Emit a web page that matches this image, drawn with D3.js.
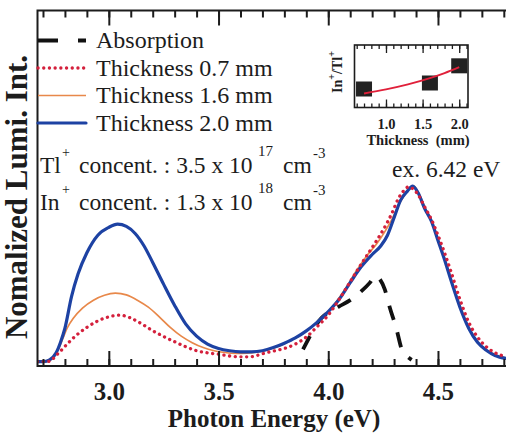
<!DOCTYPE html>
<html>
<head>
<meta charset="utf-8">
<script src="https://cdn.jsdelivr.net/npm/d3@7"></script>
<style>
  body { margin: 0; background: #fff; }
  svg { display: block; }
</style>
</head>
<body>
<div class="lumiChart"></div>
<script>
// ---- data ----
// photon energy (eV) / normalized intensity, thickness 0.7 mm
var energy07 = [2.675, 2.72, 2.74, 2.76, 2.78, 2.81, 2.85, 2.90, 2.95, 3.00, 3.05, 3.10, 3.15, 3.20, 3.25, 3.30, 3.35, 3.40, 3.45, 3.50, 3.55, 3.60, 3.65, 3.70, 3.75, 3.80, 3.85, 3.90, 3.95, 4.00, 4.05, 4.10, 4.15, 4.20, 4.25, 4.29, 4.32, 4.345, 4.365, 4.385, 4.41, 4.44, 4.47, 4.50, 4.53, 4.56, 4.60, 4.64, 4.68, 4.72, 4.76, 4.81];
var lumi07   = [0.0, 0.0, 0.01, 0.035, 0.06, 0.10, 0.148, 0.195, 0.232, 0.255, 0.265, 0.248, 0.215, 0.176, 0.143, 0.113, 0.085, 0.062, 0.05, 0.042, 0.032, 0.027, 0.028, 0.045, 0.06, 0.075, 0.10, 0.14, 0.20, 0.265, 0.355, 0.455, 0.555, 0.65, 0.75, 0.845, 0.93, 0.975, 0.995, 0.985, 0.95, 0.88, 0.81, 0.72, 0.62, 0.51, 0.355, 0.225, 0.14, 0.085, 0.05, 0.03];

// thickness 1.6 mm
var energy16 = [2.675, 2.72, 2.75, 2.77, 2.79, 2.81, 2.84, 2.88, 2.93, 2.98, 3.03, 3.08, 3.13, 3.18, 3.23, 3.28, 3.33, 3.38, 3.43, 3.48, 3.53, 3.58, 3.63, 3.68, 3.73, 3.78, 3.83, 3.88, 3.93, 3.98, 4.03, 4.08, 4.13, 4.18, 4.22, 4.26, 4.29, 4.32, 4.35, 4.375, 4.39, 4.41, 4.44, 4.47, 4.50, 4.53, 4.56, 4.60, 4.64, 4.68, 4.72, 4.76, 4.81];
var lumi16   = [0.0, 0.0, 0.03, 0.07, 0.13, 0.19, 0.25, 0.305, 0.35, 0.378, 0.39, 0.38, 0.35, 0.31, 0.255, 0.195, 0.145, 0.108, 0.08, 0.062, 0.052, 0.047, 0.048, 0.055, 0.07, 0.09, 0.12, 0.155, 0.205, 0.26, 0.33, 0.42, 0.52, 0.61, 0.67, 0.745, 0.81, 0.89, 0.955, 0.995, 1.0, 0.965, 0.88, 0.805, 0.70, 0.59, 0.47, 0.32, 0.20, 0.115, 0.068, 0.04, 0.02];

// thickness 2.0 mm
var energy20 = [2.675, 2.70, 2.73, 2.76, 2.78, 2.80, 2.83, 2.86, 2.90, 2.95, 3.00, 3.04, 3.08, 3.12, 3.16, 3.20, 3.25, 3.30, 3.35, 3.40, 3.45, 3.50, 3.55, 3.60, 3.65, 3.70, 3.75, 3.80, 3.85, 3.90, 3.95, 4.00, 4.05, 4.10, 4.15, 4.20, 4.24, 4.27, 4.30, 4.33, 4.36, 4.385, 4.41, 4.44, 4.47, 4.50, 4.53, 4.56, 4.60, 4.64, 4.68, 4.72, 4.76, 4.81];
var lumi20   = [0.0, 0.0, 0.01, 0.05, 0.11, 0.19, 0.37, 0.50, 0.62, 0.72, 0.765, 0.783, 0.77, 0.73, 0.66, 0.565, 0.44, 0.32, 0.215, 0.145, 0.10, 0.075, 0.062, 0.056, 0.056, 0.062, 0.08, 0.105, 0.135, 0.175, 0.225, 0.285, 0.355, 0.45, 0.54, 0.61, 0.66, 0.72, 0.82, 0.92, 0.97, 1.0, 0.96, 0.87, 0.80, 0.69, 0.58, 0.46, 0.31, 0.19, 0.11, 0.065, 0.035, 0.018];

// absorption
var energyAbs = [3.885, 3.91, 3.94, 3.97, 4.00, 4.05, 4.10, 4.15, 4.19, 4.215, 4.235, 4.258, 4.28, 4.31, 4.335, 4.36, 4.38];
var absorb    = [0.07, 0.13, 0.20, 0.25, 0.28, 0.315, 0.35, 0.40, 0.45, 0.49, 0.47, 0.41, 0.31, 0.19, 0.07, 0.03, 0.01];

// inset : In+/Tl+ ratio vs thickness
var thickness = [0.7, 1.6, 2.0];
var ratio     = [0.296, 0.392, 0.667];
var fitThick  = [0.7, 1.0, 1.3, 1.6, 1.8, 2.0];
var fitRatio  = [0.225, 0.29, 0.37, 0.47, 0.55, 0.645];

// tick labels
var majorTicks = [3.0, 3.5, 4.0, 4.5];
var tickLabels = ['3.0', '3.5', '4.0', '4.5'];
var insetMajor = [1.0, 1.5, 2.0];
var insetLabels = ['1.0', '1.5', '2.0'];

var legendLabels = ['Absorption', 'Thickness 0.7 mm', 'Thickness 1.6 mm', 'Thickness 2.0 mm'];
var concIon   = ['Tl', 'In'];
var concValue = ['3.5', '1.3'];
var concExp   = ['17', '18'];

// ---- layout ----
const W = 506, H = 444;
var plot = {left: 37.5, right: 506, top: 10.5, bottom: 366};
var serif = '"Liberation Serif", "Times New Roman", serif';
var ink = '#1c1c1c';

var svg = d3.select('.lumiChart')
            .append('svg')
            .attr('width', W)
            .attr('height', H);

var x = d3.scaleLinear().domain([2.675, 4.81]).range([plot.left, plot.right]);
var y = d3.scaleLinear().domain([-0.025, 2.0]).range([plot.bottom, plot.top]);

svg.append('clipPath').attr('id', 'plotClip')
    .append('rect')
    .attr('x', plot.left).attr('y', plot.top)
    .attr('width', plot.right - plot.left).attr('height', plot.bottom - plot.top);

var line = d3.line()
             .x(d => x(d[0]))
             .y(d => y(d[1]))
             .curve(d3.curveMonotoneX);

// series styles: absorption, 0.7, 1.6, 2.0
var series = [
    {data: d3.zip(energyAbs, absorb),  color: '#111111', width: 3.8, dash: '15,13', cap: 'butt',  legDash: '20,20'},
    {data: d3.zip(energy07, lumi07),   color: '#d4203c', width: 3.3, dash: '0.1,5.6', cap: 'round', legDash: '0.1,5.6'},
    {data: d3.zip(energy16, lumi16),   color: '#e8884a', width: 1.7, dash: null, cap: 'butt', legDash: null},
    {data: d3.zip(energy20, lumi20),   color: '#1d42a3', width: 3.2, dash: null, cap: 'round', legDash: null}
];
var drawOrder = [0, 2, 3, 1];

var curves = svg.append('g').attr('clip-path', 'url(#plotClip)');
drawOrder.forEach(i => {
    var s = series[i];
    curves.append('path')
        .datum(s.data)
        .attr('d', line)
        .attr('fill', 'none')
        .attr('stroke', s.color)
        .attr('stroke-width', s.width)
        .attr('stroke-dasharray', s.dash)
        .attr('stroke-linecap', s.cap)
        .attr('stroke-linejoin', 'round');
});

// ---- axes (ticks point inward) ----
var minorTicks = d3.range(27, 49).map(d => d / 10);

function styleAxis(g) {
    g.select('.domain').remove();
    g.selectAll('line').attr('stroke', ink).attr('stroke-width', 2);
}

svg.append('g')
    .attr('transform', `translate(0,${plot.bottom})`)
    .call(d3.axisBottom(x).tickValues(minorTicks).tickSize(-7).tickFormat(''))
    .call(styleAxis);

svg.append('g')
    .attr('transform', `translate(0,${plot.bottom})`)
    .call(d3.axisBottom(x).tickValues(majorTicks).tickSize(-15).tickPadding(16)
            .tickFormat((d, i) => tickLabels[i]))
    .call(styleAxis)
    .call(g => g.selectAll('text')
        .attr('fill', ink)
        .style('font-family', serif)
        .style('font-weight', 'bold')
        .style('font-size', '25px'));

svg.append('g')
    .attr('transform', `translate(0,${plot.top})`)
    .call(d3.axisTop(x).tickValues(minorTicks).tickSize(-7).tickFormat(''))
    .call(styleAxis);

svg.append('g')
    .attr('transform', `translate(0,${plot.top})`)
    .call(d3.axisTop(x).tickValues(majorTicks).tickSize(-15).tickFormat(''))
    .call(styleAxis);

// frame (right side is cut off in the picture)
svg.append('path')
    .attr('d', `M${plot.right + 5},${plot.top}H${plot.left}V${plot.bottom}H${plot.right + 5}`)
    .attr('fill', 'none')
    .attr('stroke', ink)
    .attr('stroke-width', 2);

// axis titles
svg.append('text')
    .attr('x', 274).attr('y', 427)
    .attr('text-anchor', 'middle')
    .style('font-family', serif).style('font-weight', 'bold').style('font-size', '25px')
    .attr('fill', ink)
    .text('Photon Energy (eV)');

svg.append('text')
    .attr('transform', 'translate(27,197) rotate(-90)')
    .attr('text-anchor', 'middle')
    .style('font-family', serif).style('font-weight', 'bold').style('font-size', '31px')
    .attr('fill', ink)
    .text('Nomalized Lumi. Int.');

// ---- legend ----
var legend = svg.selectAll('.legendRow')
                .data(legendLabels)
                .enter()
                .append('g')
                .attr('class', 'legendRow')
                .attr('transform', (d, i) => `translate(0,${48 + i * 27.5})`);

legend.append('line')
    .attr('x1', 38).attr('x2', 86)
    .attr('y1', -7.5).attr('y2', -7.5)
    .attr('stroke', (d, i) => series[i].color)
    .attr('stroke-width', (d, i) => series[i].width)
    .attr('stroke-dasharray', (d, i) => series[i].legDash)
    .attr('stroke-linecap', (d, i) => series[i].cap);

legend.append('text')
    .attr('x', 96).attr('y', 0)
    .style('font-family', serif).style('font-size', '24px')
    .attr('fill', ink)
    .text(d => d);

// ---- concentrations ----
concIon.forEach((ion, i) => {
    var base = 173 + i * 37;
    var t = svg.append('g')
               .style('font-family', serif)
               .attr('fill', ink);
    t.append('text').attr('x', 40).attr('y', base).style('font-size', '23.5px').text(ion);
    t.append('text').attr('x', 62).attr('y', base - 16).style('font-size', '14px').text('+');
    t.append('text').attr('x', 79).attr('y', base).style('font-size', '23.5px')
        .text(`concent. : ${concValue[i]} x 10`);
    t.append('text').attr('x', 258).attr('y', base - 17).style('font-size', '15px').text(concExp[i]);
    t.append('text').attr('x', 283).attr('y', base).style('font-size', '23.5px').text('cm');
    t.append('text').attr('x', 313).attr('y', base - 15).style('font-size', '15px').text('-3');
});

svg.append('text')
    .attr('x', 392).attr('y', 177)
    .style('font-family', serif).style('font-size', '23.5px')
    .attr('fill', ink)
    .text('ex. 6.42 eV');

// ---- inset ----
var inset = {left: 354.5, right: 468, top: 45, bottom: 107.5};
var ix = d3.scaleLinear().domain([0.57, 2.12]).range([inset.left, inset.right]);
var iy = d3.scaleLinear().domain([0, 1]).range([inset.bottom, inset.top]);
var insetMinor = d3.range(6, 22).map(d => d / 10);

var ins = svg.append('g').attr('class', 'inset');

ins.append('rect')
    .attr('x', inset.left).attr('y', inset.top)
    .attr('width', inset.right - inset.left).attr('height', inset.bottom - inset.top)
    .attr('fill', '#fff')
    .attr('stroke', ink).attr('stroke-width', 1.6);

function styleInset(g) {
    g.select('.domain').remove();
    g.selectAll('line').attr('stroke', ink).attr('stroke-width', 1.3);
}

ins.append('g').attr('transform', `translate(0,${inset.bottom})`)
    .call(d3.axisBottom(ix).tickValues(insetMinor).tickSize(-4).tickFormat(''))
    .call(styleInset);
ins.append('g').attr('transform', `translate(0,${inset.bottom})`)
    .call(d3.axisBottom(ix).tickValues(insetMajor).tickSize(-8).tickPadding(11)
            .tickFormat((d, i) => insetLabels[i]))
    .call(styleInset)
    .call(g => g.selectAll('text')
        .attr('fill', ink)
        .attr('dy', null)
        .attr('y', 21)
        .style('font-family', serif).style('font-weight', 'bold').style('font-size', '14.5px'));
ins.append('g').attr('transform', `translate(0,${inset.top})`)
    .call(d3.axisTop(ix).tickValues(insetMinor).tickSize(-4).tickFormat(''))
    .call(styleInset);
ins.append('g').attr('transform', `translate(0,${inset.top})`)
    .call(d3.axisTop(ix).tickValues(insetMajor).tickSize(-8).tickFormat(''))
    .call(styleInset);

ins.selectAll('.pt')
    .data(d3.zip(thickness, ratio))
    .enter()
    .append('rect')
    .attr('class', 'pt')
    .attr('x', d => ix(d[0]) - 8)
    .attr('y', d => iy(d[1]) - 7.5)
    .attr('width', 16).attr('height', 15)
    .attr('fill', '#222');

ins.append('path')
    .datum(d3.zip(fitThick, fitRatio))
    .attr('d', d3.line().x(d => ix(d[0])).y(d => iy(d[1])).curve(d3.curveMonotoneX))
    .attr('fill', 'none')
    .attr('stroke', '#e0203a')
    .attr('stroke-width', 2);

ins.append('text')
    .attr('x', 418).attr('y', 145)
    .attr('text-anchor', 'middle')
    .style('font-family', serif).style('font-weight', 'bold').style('font-size', '14.5px')
    .attr('fill', ink)
    .attr('xml:space', 'preserve')
    .text('Thickness  (mm)');

var yl = ins.append('text')
    .attr('transform', 'translate(342,72) rotate(-90)')
    .attr('text-anchor', 'middle')
    .style('font-family', serif).style('font-weight', 'bold').style('font-size', '14px')
    .attr('fill', ink);
yl.append('tspan').text('In');
yl.append('tspan').attr('dy', -7).style('font-size', '10px').text('+');
yl.append('tspan').attr('dy', 7).text('/Tl');
yl.append('tspan').attr('dy', -7).style('font-size', '10px').text('+');
</script>
</body>
</html>
